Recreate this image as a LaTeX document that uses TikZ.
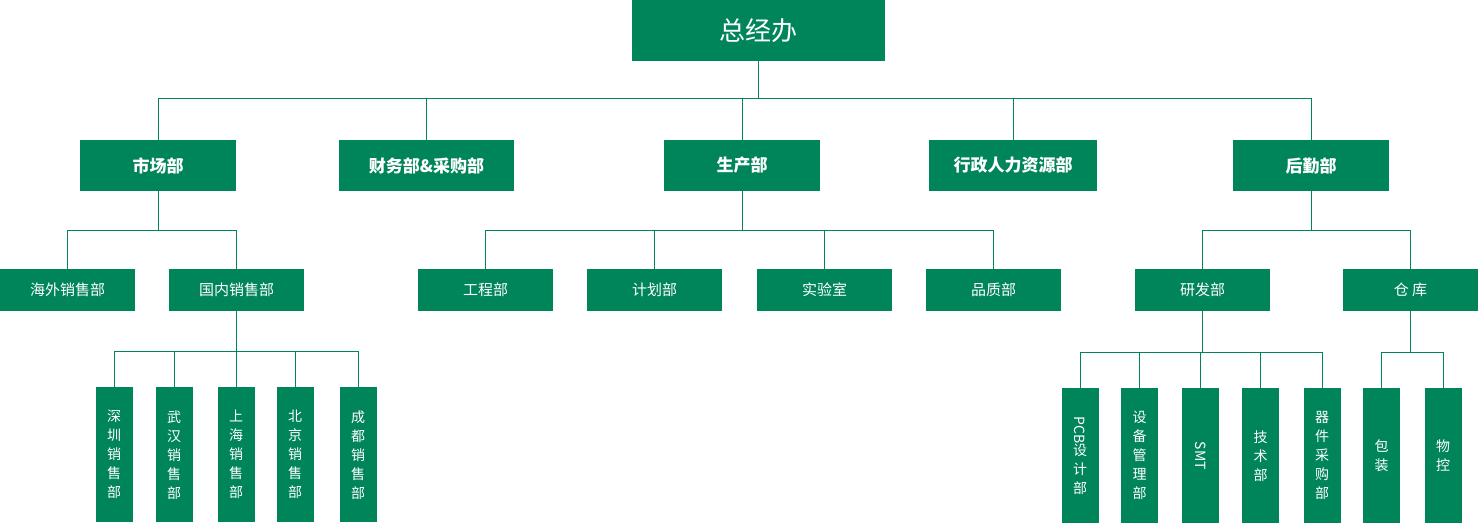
\documentclass[tikz,border=0pt]{standalone}
\usepackage{fontspec}
\setmainfont{Noto Sans CJK SC}
\definecolor{orggreen}{HTML}{00855A}
\tikzset{
  box/.style={fill=orggreen, text=white, inner sep=0pt, align=center},
  topbox/.style={box, minimum width=253pt, minimum height=61pt, font=\fontsize{26}{30}\selectfont},
  deptbox/.style={box, minimum height=51pt, font=\fontsize{17}{20}\selectfont\bfseries},
  subbox/.style={box, minimum width=135pt, minimum height=42pt, font=\fontsize{15}{18}\selectfont},
  tallbox/.style={box, anchor=north, minimum width=37pt, minimum height=135pt, font=\fontsize{14}{19}\selectfont},
  link/.style={draw=orggreen, line width=0.9pt}
}
\newcommand{\vtxt}[1]{\rotatebox{-90}{#1}}
\begin{document}
\begin{tikzpicture}[x=1pt, y=-1pt]
\useasboundingbox (0,0) rectangle (1479,524);
% top
\node[topbox] (gm) at (758.5,30.5) {总经办};
% departments
\node[deptbox, minimum width=156pt] (mkt) at (158,165.5) {市场部};
\node[deptbox, minimum width=175pt] (fin) at (426.5,165.5) {财务部\&采购部};
\node[deptbox, minimum width=156pt] (prod) at (742,165.5) {生产部};
\node[deptbox, minimum width=168pt] (hr) at (1013,165.5) {行政人力资源部};
\node[deptbox, minimum width=156pt] (log) at (1311,165.5) {后勤部};
% sub departments
\node[subbox] (oversea) at (67.5,290) {海外销售部};
\node[subbox] (domestic) at (236.5,290) {国内销售部};
\node[subbox] (eng) at (485.5,290) {工程部};
\node[subbox] (plan) at (654.5,290) {计划部};
\node[subbox] (lab) at (824.5,290) {实验室};
\node[subbox] (qa) at (993.5,290) {品质部};
\node[subbox] (rd) at (1202.5,290) {研发部};
\node[subbox] (store) at (1410.5,290) {仓\ 库};
% sales offices
\node[tallbox] (sz) at (114,387) {深\\圳\\销\\售\\部};
\node[tallbox] (wh) at (174,387) {武\\汉\\销\\售\\部};
\node[tallbox] (sh) at (236,387) {上\\海\\销\\售\\部};
\node[tallbox] (bj) at (295,387) {北\\京\\销\\售\\部};
\node[tallbox] (cd) at (358,387) {成\\都\\销\\售\\部};
% r&d groups
\node[tallbox] (pcb) at (1080,388) {\vtxt{PCB}\\设\\计\\部};
\node[tallbox] (equip) at (1139.5,388) {设\\备\\管\\理\\部};
\node[tallbox] (smt) at (1200.5,388) {\vtxt{SMT}};
\node[tallbox] (tech) at (1260.5,388) {技\\术\\部};
\node[tallbox] (parts) at (1322,388) {器\\件\\采\\购\\部};
\node[tallbox] (pack) at (1381.5,388) {包\\装};
\node[tallbox] (ctrl) at (1443,388) {物\\控};
% connectors
\foreach \c in {mkt,fin,prod,hr,log}
  \draw[link] (gm.south) -- ++(0,37) -| (\c.north);
\foreach \c in {oversea,domestic}
  \draw[link] (mkt.south) -- ++(0,39) -| (\c.north);
\foreach \c in {eng,plan,lab,qa}
  \draw[link] (prod.south) -- ++(0,39) -| (\c.north);
\foreach \c in {rd,store}
  \draw[link] (log.south) -- ++(0,39) -| (\c.north);
\foreach \c in {sz,wh,sh,bj,cd}
  \draw[link] (domestic.south) -- ++(0,40) -| (\c.north);
\foreach \c in {pcb,equip,smt,tech,parts}
  \draw[link] (rd.south) -- ++(0,41) -| (\c.north);
\foreach \c in {pack,ctrl}
  \draw[link] (store.south) -- ++(0,41) -| (\c.north);
\end{tikzpicture}
\end{document}
